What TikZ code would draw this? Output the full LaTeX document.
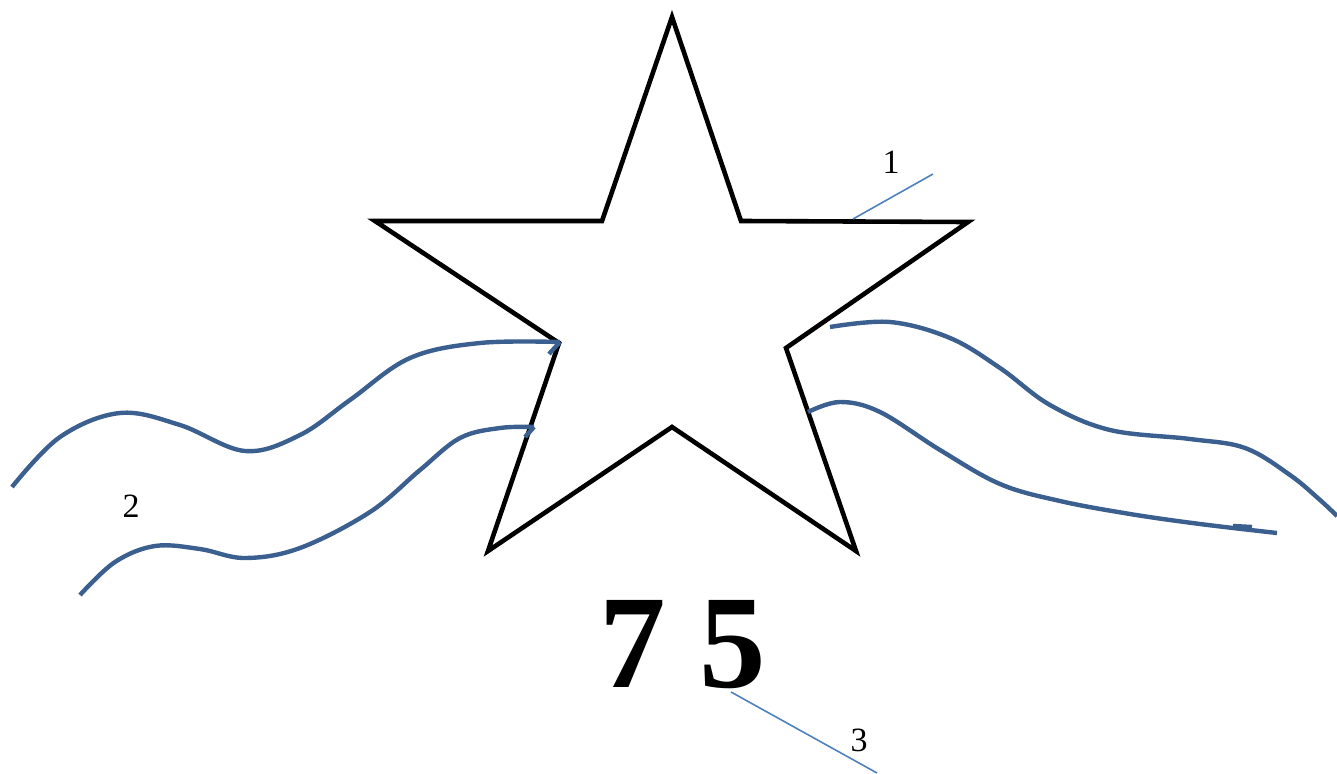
\documentclass[tikz,border=0pt]{standalone}
\usepackage{fontspec}
\setmainfont{Liberation Serif}[BoldFont={Liberation Serif Bold}]
\newfontfamily\timesfont{Liberation Serif}
\begin{document}
\begin{tikzpicture}[x=1pt,y=-1pt,
  starline/.style={black,line width=4.6pt,line join=miter},
  wave/.style={draw=wavec,line width=4.4pt,line cap=butt},
  leader/.style={draw=leadc,line width=1.6pt},
  lbl/.style={font=\timesfont\fontsize{34}{40}\selectfont,inner sep=0pt}]
\definecolor{wavec}{HTML}{3B5F8F}
\definecolor{leadc}{HTML}{4F81BD}
\useasboundingbox (0,0) rectangle (1337,773);
% star
\draw[starline] (672,17) -- (741,221) -- (968,222) -- (786,348) -- (856,551)
  -- (672,427) -- (488,551) -- (559,343) -- (375,221) -- (602,221) -- cycle;
% left waves
\draw[wave] plot[smooth,tension=0.6] coordinates {(12,487) (60,437) (120,413) (180,425) (245,451) (300,435) (350,400) (410,358) (480,343) (560,342)};
\draw[wave] (560,342) -- (549,354);
\draw[wave] plot[smooth,tension=0.6] coordinates {(80,595) (115,562) (155,546) (200,549) (245,558) (300,548) (370,512) (420,470) (460,438) (500,428) (534,427)};
\draw[wave] (534,427) -- (525,437);
% right waves
\draw[wave] plot[smooth,tension=0.6] coordinates {(830,327) (890,322) (950,338) (1000,368) (1050,405) (1110,430) (1190,439) (1245,448) (1290,475) (1320,500) (1337,516)};
\draw[wave] plot[smooth,tension=0.6] coordinates {(808,412) (840,402) (880,412) (940,450) (1000,484) (1060,501) (1130,514) (1200,524) (1277,533)};
\draw[wave] (1233,526) -- (1252,527);
% labels
\node[lbl] (l1) at (891,162) {1};
\node[lbl] (l2) at (131,506) {2};
\node[lbl] (l3) at (859,740) {3};
\node[font=\timesfont\bfseries\fontsize{133}{150}\selectfont,inner sep=0pt] (n75) at (683,645) {7 5};
\coordinate (a1) at (853,219);
\coordinate (b1) at (933,174);
\draw[leader] (a1) -- (b1);
\coordinate (a3) at (731,692);
\coordinate (b3) at (877,773);
\draw[leader] (a3) -- (b3);
\end{tikzpicture}
\end{document}
